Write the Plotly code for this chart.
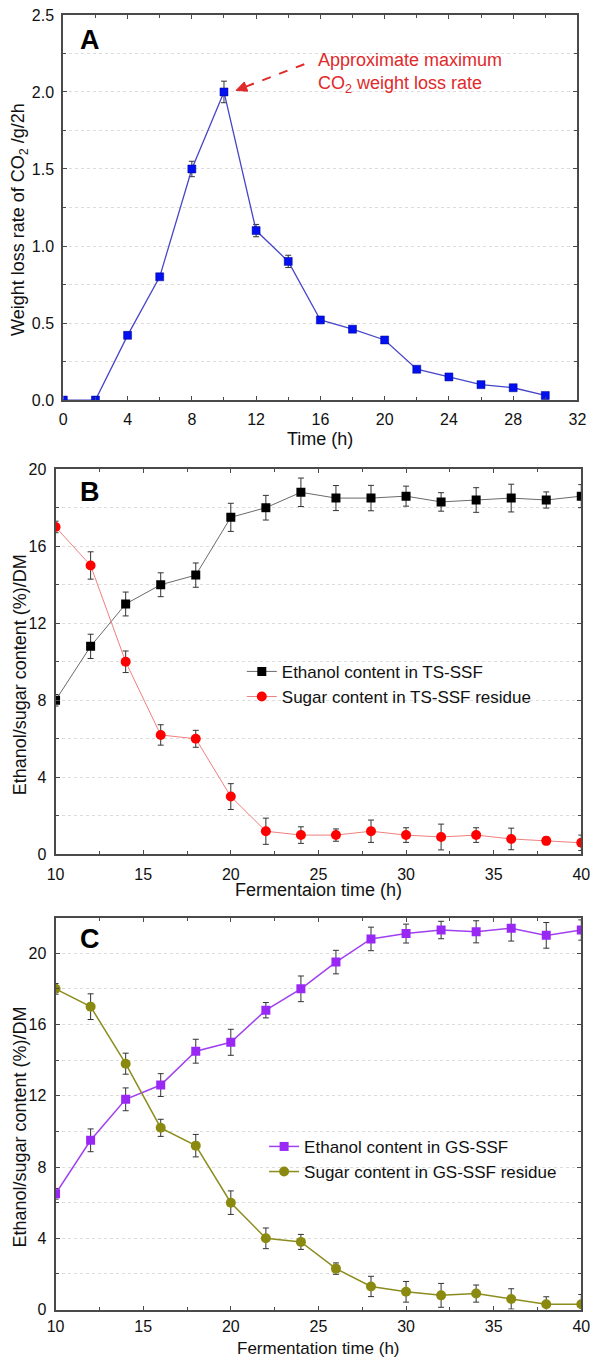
import math
import plotly.graph_objects as go

# ---------------- Data ----------------
# Panel A
time_a = [0, 2, 4, 6, 8, 10, 12, 14, 16, 18, 20, 22, 24, 26, 28, 30]
co2_rate = [0.0, 0.0, 0.42, 0.80, 1.50, 2.00, 1.10, 0.90, 0.52, 0.46, 0.39, 0.20, 0.15, 0.10, 0.08, 0.03]
co2_err = [0, 0, 0, 0, 0.05, 0.07, 0.04, 0.04, 0, 0, 0, 0, 0, 0, 0, 0]

# Panel B
time_b = [10, 12, 14, 16, 18, 20, 22, 24, 26, 28, 30, 32, 34, 36, 38, 40]
eth_ts = [8.0, 10.8, 13.0, 14.0, 14.5, 17.5, 18.0, 18.8, 18.5, 18.5, 18.6, 18.3, 18.4, 18.5, 18.4, 18.6]
eth_ts_err = [0.3, 0.63, 0.62, 0.62, 0.63, 0.73, 0.64, 0.74, 0.65, 0.66, 0.52, 0.48, 0.64, 0.72, 0.42, 0.6]
sug_ts = [17.0, 15.0, 10.0, 6.2, 6.0, 3.0, 1.2, 1.0, 1.0, 1.2, 1.0, 0.9, 1.0, 0.8, 0.7, 0.6]
sug_ts_err = [0.3, 0.71, 0.56, 0.53, 0.44, 0.67, 0.68, 0.43, 0.32, 0.58, 0.38, 0.67, 0.38, 0.56, 0.2, 0.4]

# Panel C
time_c = [10, 12, 14, 16, 18, 20, 22, 24, 26, 28, 30, 32, 34, 36, 38, 40]
eth_gs = [6.5, 9.5, 11.8, 12.6, 14.5, 15.0, 16.8, 18.0, 19.5, 20.8, 21.1, 21.3, 21.2, 21.4, 21.0, 21.3]
eth_gs_err = [0.3, 0.64, 0.64, 0.64, 0.67, 0.73, 0.43, 0.72, 0.66, 0.66, 0.53, 0.49, 0.62, 0.72, 0.72, 0.57]
sug_gs = [18.0, 17.0, 13.8, 10.2, 9.2, 6.0, 4.0, 3.8, 2.3, 1.3, 1.0, 0.8, 0.9, 0.6, 0.3, 0.3]
sug_gs_err = [0.3, 0.72, 0.59, 0.48, 0.63, 0.66, 0.58, 0.42, 0.32, 0.57, 0.58, 0.67, 0.48, 0.57, 0.42, 0.55]

ticks_a_x = [0, 4, 8, 12, 16, 20, 24, 28, 32]
ticks_a_y = [0.0, 0.5, 1.0, 1.5, 2.0, 2.5]
ticks_bc_x = [10, 15, 20, 25, 30, 35, 40]
ticks_bc_y = [0, 4, 8, 12, 16, 20]

# ---------------- Layout helpers ----------------
W, H = 600, 1367
FONT = "Arial, Liberation Sans, sans-serif"
RED = "#e0292b"


def px(x):
    return x / W


def py(y):
    return 1 - y / H


# Panel A plot-area geometry (pixels)
A_L, A_R, A_T, A_B = 56, 586, 7, 397
A_XR, A_YR = [0, 32], [0, 2.5]

ERR_STYLE = dict(type="data", visible=True, color="#333333", thickness=1, width=3)

fig = go.Figure()

# Panel A
fig.add_trace(go.Scatter(
    x=time_a, y=co2_rate, mode="lines+markers",
    line=dict(color="#4646c8", width=1.3),
    marker=dict(symbol="square", size=8, color="#0010f0", line=dict(width=0.5, color="#00008a")),
    error_y=dict(array=co2_err, **ERR_STYLE),
    xaxis="x", yaxis="y", showlegend=False))

# Panel B
fig.add_trace(go.Scatter(
    x=time_b, y=eth_ts, mode="lines+markers", name="Ethanol content in TS-SSF",
    line=dict(color="#6a6a6a", width=1),
    marker=dict(symbol="square", size=9, color="#000000"),
    error_y=dict(array=eth_ts_err, **ERR_STYLE),
    xaxis="x2", yaxis="y2", legend="legend"))
fig.add_trace(go.Scatter(
    x=time_b, y=sug_ts, mode="lines+markers", name="Sugar content in TS-SSF residue",
    line=dict(color="#ee7f7f", width=1),
    marker=dict(symbol="circle", size=10, color="#ff0000"),
    error_y=dict(array=sug_ts_err, **ERR_STYLE),
    xaxis="x2", yaxis="y2", legend="legend"))

# Panel C
fig.add_trace(go.Scatter(
    x=time_c, y=eth_gs, mode="lines+markers", name="Ethanol content in GS-SSF",
    line=dict(color="#a040f0", width=1.5),
    marker=dict(symbol="square", size=9, color="#9a28f5"),
    error_y=dict(array=eth_gs_err, **ERR_STYLE),
    xaxis="x3", yaxis="y3", legend="legend2"))
fig.add_trace(go.Scatter(
    x=time_c, y=sug_gs, mode="lines+markers", name="Sugar content in GS-SSF residue",
    line=dict(color="#8c8c1e", width=1.5),
    marker=dict(symbol="circle", size=10, color="#8a8a10"),
    error_y=dict(array=sug_gs_err, **ERR_STYLE),
    xaxis="x3", yaxis="y3", legend="legend2"))

axis_common = dict(
    showline=True, linecolor="#4a4a4a", linewidth=2, mirror="ticks",
    ticks="inside", ticklen=4, tickwidth=1, tickcolor="#4a4a4a",
    tickfont=dict(family=FONT, size=16, color="#111111"),
    zeroline=False,
)

xgrid_off = dict(showgrid=False)
ygrid_on = dict(showgrid=True, gridcolor="#dcdcdc", griddash="dot", gridwidth=1)

fig.update_layout(
    width=W, height=H,
    margin=dict(l=0, r=0, t=0, b=0),
    paper_bgcolor="white", plot_bgcolor="white",
    font=dict(family=FONT, color="#111111"),
    xaxis=dict(domain=[px(A_L), px(A_R)], range=A_XR, tickvals=ticks_a_x,
               minor=dict(dtick=2, tick0=0, ticks="inside", ticklen=3, tickcolor="#4a4a4a", showgrid=False),
               ticklabelstandoff=4, anchor="y", **xgrid_off, **axis_common),
    yaxis=dict(domain=[py(A_B), py(A_T)], range=A_YR, tickvals=ticks_a_y, tickformat=".1f",
               minor=dict(dtick=0.25, tick0=0, ticks="inside", ticklen=3, tickcolor="#4a4a4a",
                          showgrid=True, gridcolor="#dcdcdc", griddash="dot"),
               ticklabelstandoff=4, anchor="x", **ygrid_on, **axis_common),
    xaxis2=dict(domain=[px(48), px(590)], range=[10, 40], tickvals=ticks_bc_x,
                minor=dict(dtick=2.5, tick0=10, ticks="inside", ticklen=3, tickcolor="#4a4a4a", showgrid=False),
                ticklabelstandoff=4, anchor="y2", **xgrid_off, **axis_common),
    yaxis2=dict(domain=[py(857), py(467)], range=[0, 20], tickvals=ticks_bc_y,
                minor=dict(dtick=2, tick0=0, ticks="inside", ticklen=3, tickcolor="#4a4a4a",
                           showgrid=True, gridcolor="#dcdcdc", griddash="dot"),
                ticklabelstandoff=4, anchor="x2", **ygrid_on, **axis_common),
    xaxis3=dict(domain=[px(48), px(590)], range=[10, 40], tickvals=ticks_bc_x,
                minor=dict(dtick=2.5, tick0=10, ticks="inside", ticklen=3, tickcolor="#4a4a4a", showgrid=False),
                ticklabelstandoff=1, anchor="y3", **xgrid_off, **axis_common),
    yaxis3=dict(domain=[py(1318), py(921)], range=[0, 22], tickvals=ticks_bc_y,
                minor=dict(dtick=2, tick0=0, ticks="inside", ticklen=3, tickcolor="#4a4a4a",
                           showgrid=True, gridcolor="#dcdcdc", griddash="dot"),
                ticklabelstandoff=4, anchor="x3", **ygrid_on, **axis_common),
    legend=dict(x=px(240), y=py(654), xanchor="left", yanchor="top",
                font=dict(family=FONT, size=17, color="#111111"), bgcolor="rgba(0,0,0,0)",
                tracegroupgap=0, itemwidth=30),
    legend2=dict(x=px(263), y=py(1135), xanchor="left", yanchor="top",
                 font=dict(family=FONT, size=17, color="#111111"), bgcolor="rgba(0,0,0,0)",
                 tracegroupgap=0, itemwidth=30),
)

annotations = []
# Panel letters
for letter, yc in [("A", 32), ("B", 490), ("C", 943)]:
    annotations.append(dict(text=f"<b>{letter}</b>", x=px(83), y=py(yc), xref="paper", yref="paper",
                            showarrow=False, xanchor="center", yanchor="middle",
                            font=dict(family=FONT, size=27, color="#000000")))
# Axis titles
annotations += [
    dict(text="Weight loss rate of CO<sub>2</sub> /g/2h", x=px(11), y=py(214), xref="paper", yref="paper",
         showarrow=False, textangle=-90, xanchor="center", yanchor="middle",
         font=dict(family=FONT, size=18, color="#111111")),
    dict(text="Ethanol/sugar content (%)/DM", x=px(11), y=py(675), xref="paper", yref="paper",
         showarrow=False, textangle=-90, xanchor="center", yanchor="middle",
         font=dict(family=FONT, size=18, color="#111111")),
    dict(text="Ethanol/sugar content (%)/DM", x=px(11), y=py(1133), xref="paper", yref="paper",
         showarrow=False, textangle=-90, xanchor="center", yanchor="middle",
         font=dict(family=FONT, size=18, color="#111111")),
    dict(text="Time (h)", x=px(321), y=py(436), xref="paper", yref="paper",
         showarrow=False, xanchor="center", yanchor="middle",
         font=dict(family=FONT, size=18, color="#111111")),
    dict(text="Fermentaion time (h)", x=px(319), y=py(893), xref="paper", yref="paper",
         showarrow=False, xanchor="center", yanchor="middle",
         font=dict(family=FONT, size=18, color="#111111")),
    dict(text="Fermentation time (h)", x=px(319), y=py(1357), xref="paper", yref="paper",
         showarrow=False, xanchor="center", yanchor="middle",
         font=dict(family=FONT, size=17, color="#111111")),
]
# Red annotation text
annotations.append(dict(text="Approximate maximum<br>CO<sub>2</sub> weight loss rate",
                        x=px(316), y=py(66), xref="paper", yref="paper", showarrow=False,
                        xanchor="left", yanchor="middle", align="left",
                        font=dict(family=FONT, size=18, color=RED)))
fig.update_layout(annotations=annotations)

# Dashed arrow pointing to the maximum (head near the peak point, tail near the text)
peak_i = co2_rate.index(max(co2_rate))
ux = (A_R - A_L) / (A_XR[1] - A_XR[0])   # px per x unit
uy = (A_B - A_T) / (A_YR[1] - A_YR[0])   # px per y unit
head_px = (A_L + (time_a[peak_i] + 0.75) * ux, A_B - (co2_rate[peak_i] + 0.01) * uy)
tail_px = (A_L + 15.0 * ux, A_B - 2.18 * uy)
dxp, dyp = tail_px[0] - head_px[0], tail_px[1] - head_px[1]
L = math.hypot(dxp, dyp)
dx_u, dy_u = dxp / L, dyp / L
perp = (-dy_u, dx_u)
head_len, head_half = 11, 5
base = (head_px[0] + dx_u * head_len, head_px[1] + dy_u * head_len)
p1 = (base[0] + perp[0] * head_half, base[1] + perp[1] * head_half)
p2 = (base[0] - perp[0] * head_half, base[1] - perp[1] * head_half)


def to_data(p):
    return (A_XR[0] + (p[0] - A_L) / ux, A_YR[0] + (A_B - p[1]) / uy)


hd, bd, t_d, p1d, p2d = map(to_data, [head_px, base, tail_px, p1, p2])
fig.add_shape(type="line", x0=t_d[0], y0=t_d[1], x1=bd[0], y1=bd[1], xref="x", yref="y",
              line=dict(color=RED, width=2, dash="dash"))
fig.add_shape(type="path", xref="x", yref="y",
              path=f"M {hd[0]},{hd[1]} L {p1d[0]},{p1d[1]} L {p2d[0]},{p2d[1]} Z",
              fillcolor=RED, line=dict(color=RED, width=1))

fig.write_html("out.html",
               config={"displayModeBar": False},
               post_script="document.body.style.margin='0';document.body.style.padding='0';"
                           "document.documentElement.style.overflow='hidden';")
